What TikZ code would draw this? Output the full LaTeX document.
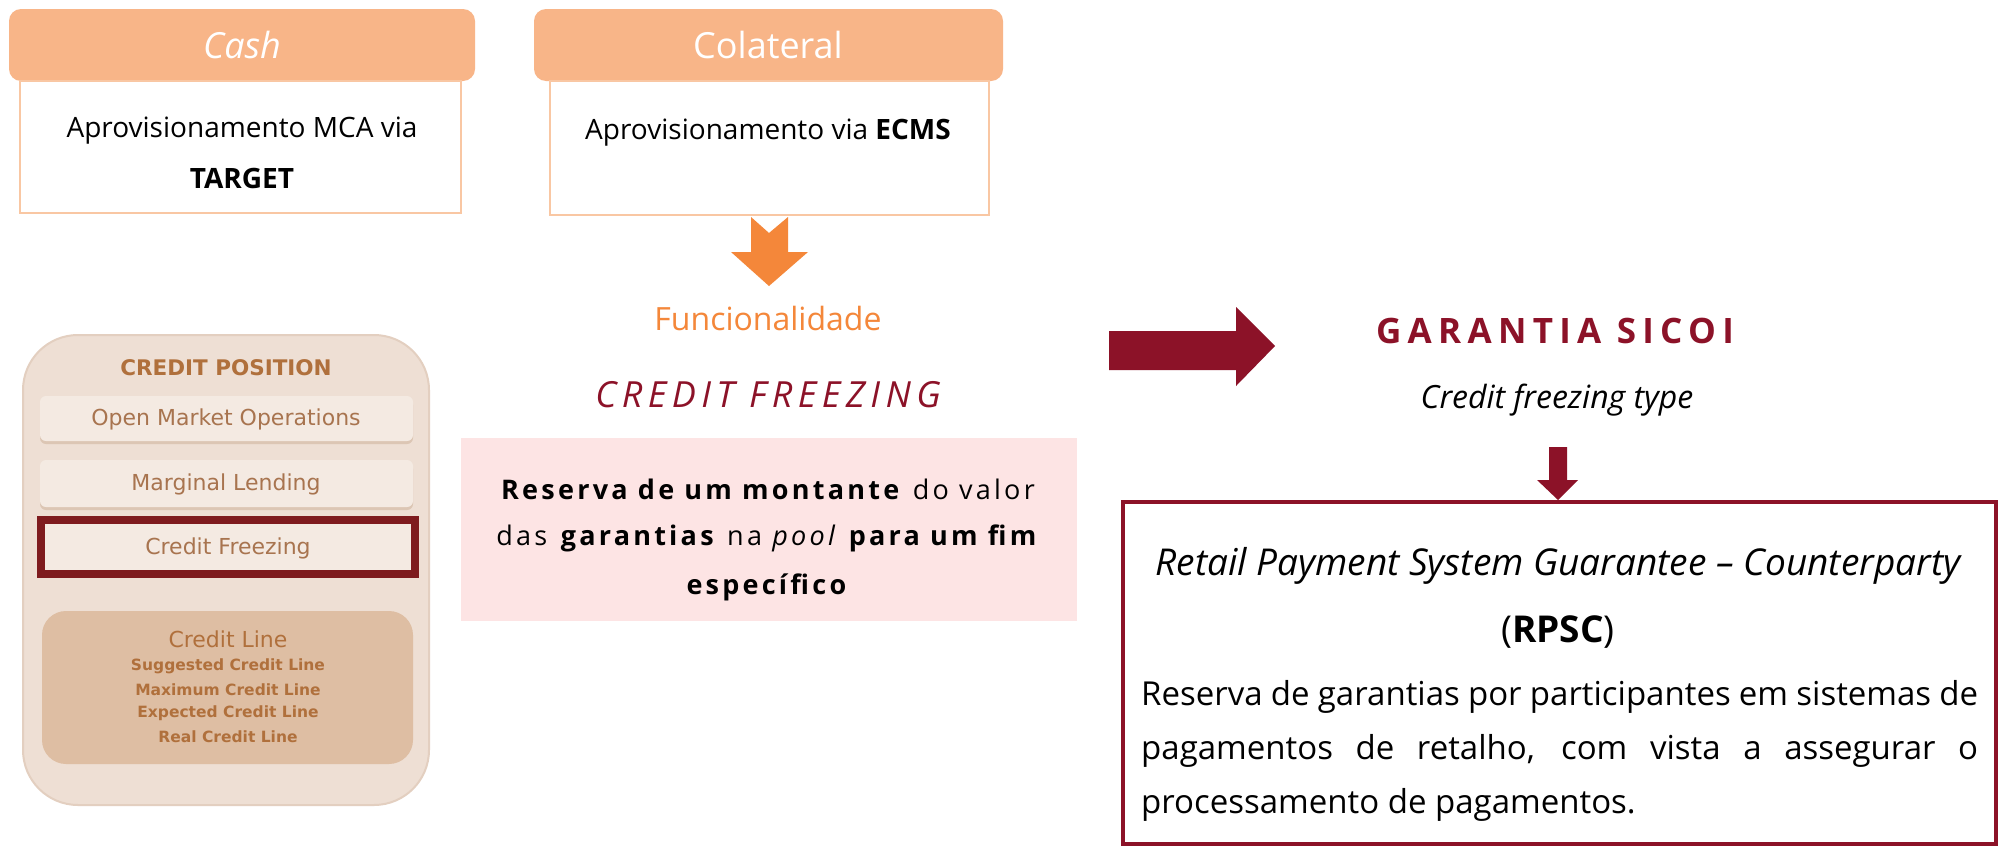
\documentclass[tikz,border=0pt]{standalone}
\usepackage{fontspec}
\setmainfont{Open Sans}
\newfontfamily\dejavu{DejaVu Sans}
\newfontfamily\spaced[LetterSpace=12]{Open Sans}
\newfontfamily\wide[LetterSpace=15]{Open Sans}
\newfontfamily\wider[LetterSpace=18]{Open Sans}
\newcommand\fs[2]{\fontsize{#1}{#2}\selectfont}
\definecolor{peach}{HTML}{F8B588}
\definecolor{peachline}{HTML}{F9C7A3}
\definecolor{orangeA}{HTML}{F4873A}
\definecolor{darkred}{HTML}{8C1228}
\definecolor{pinkbox}{HTML}{FDE4E4}
\definecolor{panel}{HTML}{EEDFD4}
\definecolor{panelline}{HTML}{E3CFC0}
\definecolor{inner}{HTML}{F4EAE2}
\definecolor{innershadow}{HTML}{DCC6B4}
\definecolor{clbox}{HTML}{DEBEA3}
\definecolor{brownA}{HTML}{B0703C}
\definecolor{brownB}{HTML}{A8744F}
\definecolor{frame}{HTML}{7E1B1E}
\tikzset{
  txt/.style={inner sep=0pt, anchor=center},
  head/.style={fill=peach, rounded corners=12pt},
  body/.style={draw=peachline, line width=2pt, fill=white},
  panelbtn/.style={fill=inner, rounded corners=6pt},
  pan/.style={txt, font=\dejavu\fs{22}{26}, text=brownB},
  cl/.style={txt, font=\dejavu\bfseries\fs{15.5}{18}, text=brownA},
  para/.style={txt, anchor=west, font=\fs{33}{40}},
}
\begin{document}
\begin{tikzpicture}[x=1pt, y=-1pt]
\useasboundingbox (0,0) rectangle (2004,846);
\fill[white] (0,0) rectangle (2004,846);

% Cash column
\fill[head] (9,9) rectangle (475,81);
\draw[body] (20,81) rectangle (461,213);
\node[txt, font=\fs{36}{43}\itshape, text=white] (cash) at (242,45) {Cash};
\node[txt, font=\fs{28}{51}, align=center] (cashbody) at (242,153) {Aprovisionamento MCA via\\\textbf{TARGET}};

% Colateral column
\fill[head] (534,9) rectangle (1003,81);
\draw[body] (550,81) rectangle (989,215);
\node[txt, font=\fs{36}{43}, text=white] (col) at (768,45) {Colateral};
\node[txt, font=\fs{28}{34}] (colbody) at (768,133) {Aprovisionamento via \textbf{ECMS}};

% orange arrow
\fill[orangeA] (751,217) -- (769,233) -- (788,217) -- (788,252) -- (808,252) -- (769,286) -- (731,252) -- (751,252) -- cycle;

\node[txt, font=\fs{32}{38}, text=orangeA] (func) at (768,318) {Funcionalidade};
\node[txt, font=\wide\itshape\fs{36}{43}, text=darkred] (cf) at (768,395) {CREDIT FREEZING};

% pink box
\fill[pinkbox] (461,438) rectangle (1077,621);
\node[txt, font=\spaced\fs{27}{32}] (p1) at (768,489) {\textbf{Reserva de um montante} do valor};
\node[txt, font=\spaced\fs{27}{32}] (p2) at (768,538) {das \textbf{garantias} na \textit{pool} \textbf{para um fim}};
\node[txt, font=\spaced\fs{27}{32}] (p3) at (768,587) {\textbf{específico}};

% left panel
\filldraw[fill=panel, draw=panelline, line width=2pt, rounded corners=55pt] (23,335) rectangle (429,805);
\node[txt, font=\dejavu\bfseries\fs{21.5}{26}, text=brownA] (cp) at (226,368) {CREDIT POSITION};
\fill[innershadow, rounded corners=6pt] (40,399) rectangle (413,444);
\fill[panelbtn] (40,396) rectangle (413,441);
\node[pan] (omo) at (226,419) {Open Market Operations};
\fill[innershadow, rounded corners=6pt] (40,463) rectangle (413,510);
\fill[panelbtn] (40,460) rectangle (413,507);
\node[pan] (ml) at (226,484) {Marginal Lending};
\filldraw[fill=inner, draw=frame, line width=8pt] (41,520) rectangle (415,574);
\node[pan] (cfz) at (228,548) {Credit Freezing};
\fill[clbox, rounded corners=24pt] (42,611) rectangle (413,764);
\node[txt, font=\dejavu\fs{22}{26}, text=brownA] (cl0) at (228,639) {Credit Line};
\node[cl] (cl1) at (228,666) {Suggested Credit Line};
\node[cl] (cl2) at (228,690) {Maximum Credit Line};
\node[cl] (cl3) at (228,713) {Expected Credit Line};
\node[cl] (cl4) at (228,737) {Real Credit Line};

% big red arrow
\fill[darkred] (1109,331) -- (1236,331) -- (1236,307) -- (1275,346) -- (1236,386) -- (1236,370) -- (1109,370) -- cycle;

\node[txt, font=\wider\bfseries\fs{35}{42}, text=darkred] (gs) at (1555,331) {GARANTIA SICOI};
\node[txt, font=\fs{32}{38}\itshape] (cft) at (1557,400) {Credit freezing type};

% small red arrow
\fill[darkred] (1549,447) -- (1567,447) -- (1567,480) -- (1578,480) -- (1558,500) -- (1537,480) -- (1549,480) -- cycle;

% RPSC box
\draw[darkred, line width=4.5pt] (1123,502) rectangle (1996,844);
\node[txt, font=\fs{37}{44}\itshape] (rt) at (1558,566) {Retail Payment System Guarantee – Counterparty};
\node[txt, font=\fs{37}{44}] (rp) at (1558,632) {(\textbf{RPSC})};
\node[para] (l1) at (1141,697) {\makebox[837pt][s]{Reserva de garantias por participantes em sistemas de}};
\node[para] (l2) at (1141,751) {\makebox[837pt][s]{pagamentos de retalho, com vista a assegurar o}};
\node[para] (l3) at (1141,805) {processamento de pagamentos.};
\end{tikzpicture}
\end{document}
